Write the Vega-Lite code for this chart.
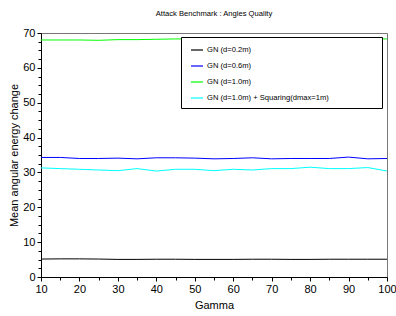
{
  "$schema": "https://vega.github.io/schema/vega-lite/v6.json",
  "width": 346,
  "height": 244,
  "autosize": {"type": "none"},
  "padding": {"left": 41, "top": 33, "right": 9, "bottom": 39},
  "background": "white",
  "title": {"text": "Attack Benchmark : Angles Quality", "font": "Liberation Sans", "fontSize": 7.6, "fontWeight": "normal", "color": "black", "anchor": "middle", "offset": 9},
  "config": {
    "font": "Liberation Sans",
    "view": {"stroke": "#777", "strokeWidth": 1},
    "axis": {"grid": false, "domainColor": "black", "tickColor": "black", "labelColor": "black", "titleColor": "black", "labelFont": "Liberation Sans", "titleFont": "Liberation Sans", "labelFontSize": 11, "titleFontSize": 11, "titleFontWeight": "normal"}
  },
  "data": {"values": [
    {"gamma": 10, "value": 5.15, "series": "GN (d=0.2m)"},
    {"gamma": 15, "value": 5.2, "series": "GN (d=0.2m)"},
    {"gamma": 20, "value": 5.2, "series": "GN (d=0.2m)"},
    {"gamma": 25, "value": 5.15, "series": "GN (d=0.2m)"},
    {"gamma": 30, "value": 5.05, "series": "GN (d=0.2m)"},
    {"gamma": 35, "value": 5.05, "series": "GN (d=0.2m)"},
    {"gamma": 40, "value": 5.1, "series": "GN (d=0.2m)"},
    {"gamma": 45, "value": 5.1, "series": "GN (d=0.2m)"},
    {"gamma": 50, "value": 5.05, "series": "GN (d=0.2m)"},
    {"gamma": 55, "value": 5.05, "series": "GN (d=0.2m)"},
    {"gamma": 60, "value": 5.05, "series": "GN (d=0.2m)"},
    {"gamma": 65, "value": 5.1, "series": "GN (d=0.2m)"},
    {"gamma": 70, "value": 5.1, "series": "GN (d=0.2m)"},
    {"gamma": 75, "value": 5.05, "series": "GN (d=0.2m)"},
    {"gamma": 80, "value": 5.05, "series": "GN (d=0.2m)"},
    {"gamma": 85, "value": 5.1, "series": "GN (d=0.2m)"},
    {"gamma": 90, "value": 5.1, "series": "GN (d=0.2m)"},
    {"gamma": 95, "value": 5.1, "series": "GN (d=0.2m)"},
    {"gamma": 100, "value": 5.1, "series": "GN (d=0.2m)"},
    {"gamma": 10, "value": 34.3, "series": "GN (d=0.6m)"},
    {"gamma": 15, "value": 34.3, "series": "GN (d=0.6m)"},
    {"gamma": 20, "value": 34.0, "series": "GN (d=0.6m)"},
    {"gamma": 25, "value": 34.0, "series": "GN (d=0.6m)"},
    {"gamma": 30, "value": 34.1, "series": "GN (d=0.6m)"},
    {"gamma": 35, "value": 33.9, "series": "GN (d=0.6m)"},
    {"gamma": 40, "value": 34.2, "series": "GN (d=0.6m)"},
    {"gamma": 45, "value": 34.2, "series": "GN (d=0.6m)"},
    {"gamma": 50, "value": 34.1, "series": "GN (d=0.6m)"},
    {"gamma": 55, "value": 33.9, "series": "GN (d=0.6m)"},
    {"gamma": 60, "value": 34.0, "series": "GN (d=0.6m)"},
    {"gamma": 65, "value": 34.2, "series": "GN (d=0.6m)"},
    {"gamma": 70, "value": 33.9, "series": "GN (d=0.6m)"},
    {"gamma": 75, "value": 34.0, "series": "GN (d=0.6m)"},
    {"gamma": 80, "value": 34.0, "series": "GN (d=0.6m)"},
    {"gamma": 85, "value": 34.0, "series": "GN (d=0.6m)"},
    {"gamma": 90, "value": 34.4, "series": "GN (d=0.6m)"},
    {"gamma": 95, "value": 33.9, "series": "GN (d=0.6m)"},
    {"gamma": 100, "value": 34.0, "series": "GN (d=0.6m)"},
    {"gamma": 10, "value": 68.0, "series": "GN (d=1.0m)"},
    {"gamma": 15, "value": 68.0, "series": "GN (d=1.0m)"},
    {"gamma": 20, "value": 68.0, "series": "GN (d=1.0m)"},
    {"gamma": 25, "value": 67.9, "series": "GN (d=1.0m)"},
    {"gamma": 30, "value": 68.1, "series": "GN (d=1.0m)"},
    {"gamma": 35, "value": 68.1, "series": "GN (d=1.0m)"},
    {"gamma": 40, "value": 68.2, "series": "GN (d=1.0m)"},
    {"gamma": 45, "value": 68.3, "series": "GN (d=1.0m)"},
    {"gamma": 50, "value": 68.3, "series": "GN (d=1.0m)"},
    {"gamma": 55, "value": 68.3, "series": "GN (d=1.0m)"},
    {"gamma": 60, "value": 68.3, "series": "GN (d=1.0m)"},
    {"gamma": 65, "value": 68.3, "series": "GN (d=1.0m)"},
    {"gamma": 70, "value": 68.3, "series": "GN (d=1.0m)"},
    {"gamma": 75, "value": 68.3, "series": "GN (d=1.0m)"},
    {"gamma": 80, "value": 68.3, "series": "GN (d=1.0m)"},
    {"gamma": 85, "value": 68.3, "series": "GN (d=1.0m)"},
    {"gamma": 90, "value": 68.3, "series": "GN (d=1.0m)"},
    {"gamma": 95, "value": 68.3, "series": "GN (d=1.0m)"},
    {"gamma": 100, "value": 68.3, "series": "GN (d=1.0m)"},
    {"gamma": 10, "value": 31.3, "series": "GN (d=1.0m) + Squaring(dmax=1m)"},
    {"gamma": 15, "value": 31.1, "series": "GN (d=1.0m) + Squaring(dmax=1m)"},
    {"gamma": 20, "value": 30.9, "series": "GN (d=1.0m) + Squaring(dmax=1m)"},
    {"gamma": 25, "value": 30.7, "series": "GN (d=1.0m) + Squaring(dmax=1m)"},
    {"gamma": 30, "value": 30.5, "series": "GN (d=1.0m) + Squaring(dmax=1m)"},
    {"gamma": 35, "value": 31.1, "series": "GN (d=1.0m) + Squaring(dmax=1m)"},
    {"gamma": 40, "value": 30.4, "series": "GN (d=1.0m) + Squaring(dmax=1m)"},
    {"gamma": 45, "value": 30.9, "series": "GN (d=1.0m) + Squaring(dmax=1m)"},
    {"gamma": 50, "value": 30.9, "series": "GN (d=1.0m) + Squaring(dmax=1m)"},
    {"gamma": 55, "value": 30.5, "series": "GN (d=1.0m) + Squaring(dmax=1m)"},
    {"gamma": 60, "value": 30.9, "series": "GN (d=1.0m) + Squaring(dmax=1m)"},
    {"gamma": 65, "value": 30.7, "series": "GN (d=1.0m) + Squaring(dmax=1m)"},
    {"gamma": 70, "value": 31.1, "series": "GN (d=1.0m) + Squaring(dmax=1m)"},
    {"gamma": 75, "value": 31.1, "series": "GN (d=1.0m) + Squaring(dmax=1m)"},
    {"gamma": 80, "value": 31.5, "series": "GN (d=1.0m) + Squaring(dmax=1m)"},
    {"gamma": 85, "value": 31.1, "series": "GN (d=1.0m) + Squaring(dmax=1m)"},
    {"gamma": 90, "value": 31.1, "series": "GN (d=1.0m) + Squaring(dmax=1m)"},
    {"gamma": 95, "value": 31.4, "series": "GN (d=1.0m) + Squaring(dmax=1m)"},
    {"gamma": 100, "value": 30.4, "series": "GN (d=1.0m) + Squaring(dmax=1m)"}
  ]},
  "mark": {"type": "line", "strokeWidth": 1},
  "encoding": {
    "x": {"field": "gamma", "type": "quantitative", "scale": {"domain": [10, 100], "nice": false, "zero": false},
      "axis": {"title": "Gamma", "values": [10,15,20,25,30,35,40,45,50,55,60,65,70,75,80,85,90,95,100],
        "labelExpr": "datum.value % 10 === 0 ? datum.label : ''",
        "tickSize": {"condition": {"test": "datum.value % 10 === 0", "value": 4}, "value": 3},
        "labelPadding": 2, "titlePadding": 5, "labelFlush": false}},
    "y": {"field": "value", "type": "quantitative", "scale": {"domain": [0, 70], "nice": false},
      "axis": {"title": "Mean angular energy change", "values": [0,2.5,5,7.5,10,12.5,15,17.5,20,22.5,25,27.5,30,32.5,35,37.5,40,42.5,45,47.5,50,52.5,55,57.5,60,62.5,65,67.5,70],
        "labelExpr": "datum.value % 10 === 0 ? datum.label : ''",
        "tickSize": {"condition": {"test": "datum.value % 10 === 0", "value": 4}, "value": 3},
        "labelPadding": 2, "titlePadding": 3, "labelFlush": false}},
    "color": {"field": "series", "type": "nominal",
      "scale": {"domain": ["GN (d=0.2m)", "GN (d=0.6m)", "GN (d=1.0m)", "GN (d=1.0m) + Squaring(dmax=1m)"], "range": ["#000000", "#0000ff", "#00ff00", "#00ffff"]},
      "legend": {"title": null, "orient": "none", "legendX": 140, "legendY": 4,
        "fillColor": "white", "strokeColor": "black", "padding": 6, "symbolOffset": 3,
        "symbolType": "stroke", "symbolSize": 144, "symbolStrokeWidth": 1.2,
        "labelFont": "Liberation Sans", "labelFontSize": 7.6, "labelColor": "black", "labelOffset": 3, "rowPadding": 5, "labelLimit": 0,
        "labelExpr": "datum.label + '\u00a0\u00a0\u00a0\u00a0\u00a0\u00a0\u00a0\u00a0\u00a0\u00a0\u00a0\u00a0\u00a0\u00a0\u00a0\u00a0\u00a0\u00a0\u00a0\u00a0\u00a0\u00a0\u200b'"}}
  }
}
